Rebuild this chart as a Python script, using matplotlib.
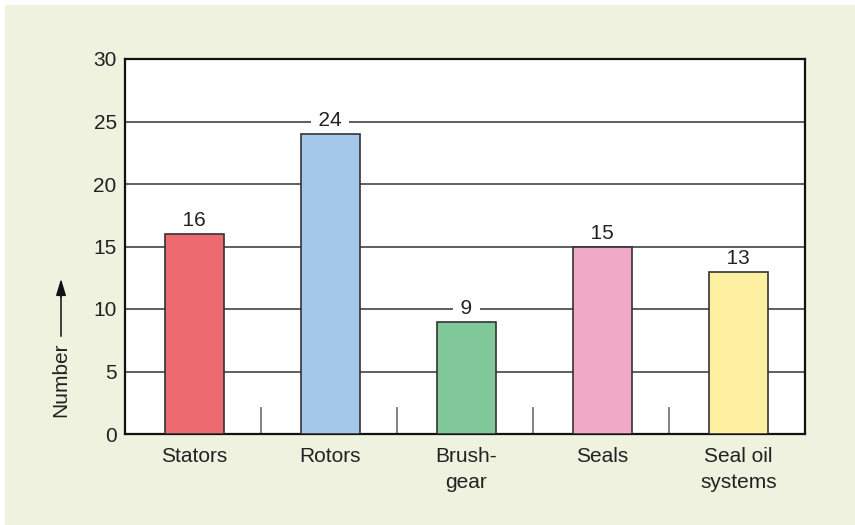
import matplotlib.pyplot as plt
from matplotlib.patches import Rectangle

categories = ["Stators", "Rotors", "Brush-\ngear", "Seals", "Seal oil\nsystems"]
values = [16, 24, 9, 15, 13]
colors = ["#ec6a70", "#a3c8ea", "#80c89a", "#f0aac8", "#fdf0a0"]
y_ticks = [0, 5, 10, 15, 20, 25, 30]

plt.rcParams['font.family'] = ['Liberation Sans', 'DejaVu Sans']

fig = plt.figure(figsize=(8.55, 5.25), dpi=100)
fig.patch.set_facecolor("white")
# light green panel behind everything
fig.patches.append(Rectangle((5 / 855, 0), 850 / 855, 520 / 525,
                             transform=fig.transFigure, facecolor="#eef2de",
                             edgecolor="none", zorder=-10))

ax = fig.add_axes([125 / 855, 91 / 525, 680 / 855, 375 / 525])
ax.set_facecolor("white")

x = list(range(len(categories)))
ax.bar([xi + 0.01 for xi in x], values, width=0.43, color=colors,
       edgecolor="#333333", linewidth=1.2, zorder=3)

# value labels sit on a white box that breaks the grid lines
for xi, v in zip(x, values):
    ax.annotate(f"  {v}  ", (xi + 0.01, v), xytext=(0, 9.5), textcoords="offset points",
                ha="center", va="center", fontsize=15, color="#222222",
                bbox=dict(boxstyle="square,pad=-0.2", facecolor="white", edgecolor="none"),
                zorder=2)

# short separators between categories
for xs in [0.5, 1.5, 2.5, 3.5]:
    ax.plot([xs, xs], [0, 2.1], color="#777777", lw=1.3, zorder=2)

ax.set_xlim(-0.5, 4.5)
ax.set_ylim(0, 30)
ax.set_yticks(y_ticks)
ax.set_xticks([xi + 0.01 for xi in x])
ax.set_xticklabels(categories, fontsize=15, color="#222222", linespacing=1.5)
ax.tick_params(axis="y", length=0, pad=6, labelsize=15, labelcolor="#222222")
ax.tick_params(axis="x", length=0, pad=9)

for yv in y_ticks[1:-1]:
    ax.axhline(yv, color="#333333", lw=1.1, zorder=1)

for s in ax.spines.values():
    s.set_linewidth(1.6)
    s.set_color("#111111")

# y label with arrow
fig.text(61 / 855, 1 - 380 / 525, "Number", rotation=90, ha="center", va="center",
         fontsize=15, color="#222222")
fig.add_artist(plt.Line2D([61 / 855, 61 / 855], [1 - 336 / 525, 1 - 292 / 525],
                          color="#111111", lw=1.1, transform=fig.transFigure))
ax.annotate("", xy=(61 / 855, 1 - 276 / 525), xytext=(61 / 855, 1 - 300 / 525),
            xycoords="figure fraction", textcoords="figure fraction",
            arrowprops=dict(arrowstyle="-|>,head_width=0.3,head_length=1.0",
                            color="#111111", lw=1.1))

fig.savefig("out.png", dpi=100, facecolor=fig.get_facecolor())
